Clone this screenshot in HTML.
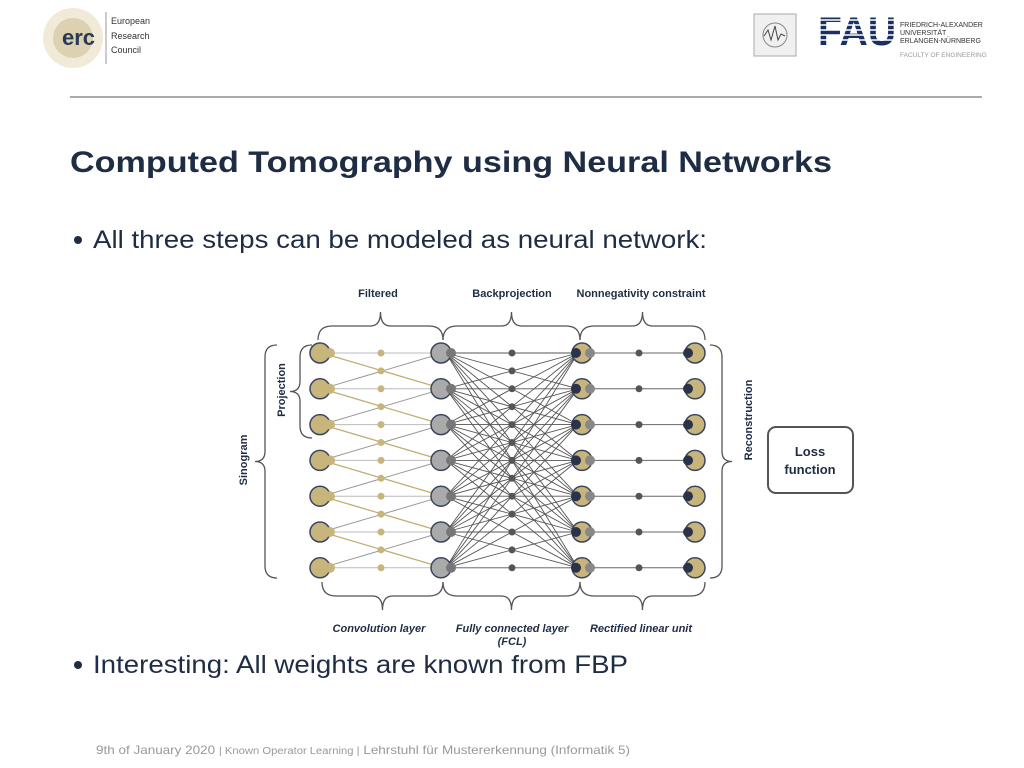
<!DOCTYPE html>
<html><head><meta charset="utf-8"><style>
body{margin:0;width:1024px;height:768px;background:#fff;font-family:"Liberation Sans",sans-serif;position:relative;overflow:hidden}
.a{position:absolute}
</style></head><body>
<svg class="a" style="left:0;top:0" width="1024" height="768" id="s">
<circle cx="73" cy="38" r="30" fill="#e8dcc0" opacity="0.6"/>
<circle cx="73" cy="38" r="20" fill="#c8b888" opacity="0.5"/>
<text x="62" y="45" font-family="Liberation Sans" font-weight="bold" font-size="22" fill="#2a3a55">erc</text>
<line x1="106" y1="12" x2="106" y2="64" stroke="#999" stroke-width="1"/>
<text font-family="Liberation Sans" font-size="9" fill="#333"><tspan x="111" y="24">European</tspan><tspan x="111" y="39">Research</tspan><tspan x="111" y="53">Council</tspan></text>
<rect x="754" y="14" width="42" height="42" fill="#f0f0f0" stroke="#aaa"/>
<circle cx="775" cy="35" r="12" fill="none" stroke="#888"/>
<path d="M764 36 l4 -6 l3 10 l4 -14 l3 14 l3 -6 l4 2" stroke="#444" fill="none"/>
<text x="818" y="45" font-family="Liberation Sans" font-weight="bold" font-size="40" fill="#1a3060" textLength="78" lengthAdjust="spacingAndGlyphs">FAU</text>
<g stroke="#fff" stroke-width="1.5"><line x1="816" y1="20" x2="898" y2="20"/><line x1="816" y1="25" x2="898" y2="25"/><line x1="816" y1="30" x2="898" y2="30"/><line x1="816" y1="35" x2="898" y2="35"/><line x1="816" y1="40" x2="898" y2="40"/></g>
<text font-family="Liberation Sans" font-size="7" fill="#333"><tspan x="900" y="27">FRIEDRICH-ALEXANDER</tspan><tspan x="900" y="35">UNIVERSITÄT</tspan><tspan x="900" y="43">ERLANGEN-NÜRNBERG</tspan></text>
<text x="900" y="57" font-family="Liberation Sans" font-size="6.5" fill="#999">FACULTY OF ENGINEERING</text>
<line x1="70" y1="97" x2="982" y2="97" stroke="#777" stroke-width="1.2"/>
<text x="70" y="172" font-family="Liberation Sans" font-weight="bold" font-size="30" fill="#1f2d44" textLength="762" lengthAdjust="spacingAndGlyphs">Computed Tomography using Neural Networks</text>
<circle cx="78" cy="240" r="4" fill="#1f2d44"/>
<text x="93" y="248" font-family="Liberation Sans" font-size="25" fill="#1f2d44" textLength="614" lengthAdjust="spacingAndGlyphs">All three steps can be modeled as neural network:</text>
<circle cx="78" cy="665" r="4" fill="#1f2d44"/>
<text x="93" y="673" font-family="Liberation Sans" font-size="25" fill="#1f2d44" textLength="535" lengthAdjust="spacingAndGlyphs">Interesting: All weights are known from FBP</text>
<text x="96" y="754" font-family="Liberation Sans" font-size="12" fill="#999" textLength="534" lengthAdjust="spacingAndGlyphs">9th of January 2020  <tspan font-size="10">| Known Operator Learning  |</tspan>   Lehrstuhl für Mustererkennung (Informatik 5)</text>
<g id="d"></g>
<g font-family="Liberation Sans" font-weight="bold" font-size="11" fill="#1f2d44" text-anchor="middle">
<text x="378" y="297">Filtered</text><text x="512" y="297">Backprojection</text><text x="641" y="297">Nonnegativity constraint</text>
<text transform="translate(285,390) rotate(-90)">Projection</text>
<text transform="translate(247,460) rotate(-90)">Sinogram</text>
<text transform="translate(752,420) rotate(-90)">Reconstruction</text>
<g font-style="italic"><text x="379" y="632">Convolution layer</text><text x="512" y="632">Fully connected layer</text><text x="512" y="645">(FCL)</text><text x="641" y="632">Rectified linear unit</text></g>
</g>
<rect x="768" y="427" width="85" height="66" rx="8" fill="#fff" stroke="#555" stroke-width="2"/>
<text x="810" y="456" text-anchor="middle" font-family="Liberation Sans" font-weight="bold" font-size="13" fill="#1f2d44">Loss</text>
<text x="810" y="474" text-anchor="middle" font-family="Liberation Sans" font-weight="bold" font-size="13" fill="#1f2d44">function</text>
</svg>
<script>
var g=document.getElementById('d'),h='';
var Y=[];for(var i=0;i<7;i++)Y.push(353+i*35.8);
function L(x1,y1,x2,y2,c,w){h+='<line x1="'+x1+'" y1="'+y1+'" x2="'+x2+'" y2="'+y2+'" stroke="'+c+'" stroke-width="'+(w||1)+'"/>';}
function C(x,y,r,f,s){h+='<circle cx="'+x+'" cy="'+y+'" r="'+r+'" fill="'+f+'"'+(s?' stroke="'+s+'" stroke-width="1.5"':'')+'/>';}
function brace(x1,x2,y,up){var m=(x1+x2)/2,s=up?-1:1,k=14;
h+='<path d="M'+x1+' '+y+' q0 '+(s*k)+' '+k+' '+(s*k)+' L'+(m-10)+' '+(y+s*k)+' q10 0 10 '+(s*k)+' q0 '+(-s*k)+' 10 '+(-s*k)+' L'+(x2-k)+' '+(y+s*k)+' q'+k+' 0 '+k+' '+(-s*k)+'" fill="none" stroke="#555" stroke-width="1.3"/>';}
function vbrace(x,y1,y2,left){var m=(y1+y2)/2,d=left?-1:1;h+='<path d="M'+(x+d*-12)+' '+y1+' q'+(d*12)+' 0 '+(d*12)+' 12 L'+x+' '+(m-10)+' q0 10 '+(d*10)+' 10 q'+(d*-10)+' 0 '+(d*-10)+' 10 L'+x+' '+(y2-12)+' q0 12 '+(d*-12)+' 12" fill="none" stroke="#555" stroke-width="1.3"/>';}
for(var i=0;i<7;i++){L(322,Y[i],443,Y[i],'#bbb');}
for(var i=0;i<6;i++){L(322,Y[i],443,Y[i+1],'#c2ad72',1.3);L(322,Y[i+1],443,Y[i],'#999');}
for(var i=0;i<7;i++)for(var j=0;j<7;j++)L(446,Y[i],578,Y[j],'#555',0.9);
for(var i=0;i<7;i++)L(580,Y[i],693,Y[i],'#666');
for(var i=0;i<7;i++){C(381,Y[i],3.5,'#c8b57c');if(i<6)C(381,Y[i]+17.9,3.5,'#c8b57c');}
for(var k=0;k<13;k++)C(512,353+k*17.9,3.5,'#555');
for(var i=0;i<7;i++){
C(320,Y[i],10,'#c8b57c','#3a4560');C(330,Y[i],5,'#c8b57c');
C(441,Y[i],10,'#aaa','#3a4560');C(451,Y[i],5,'#777');
C(582,Y[i],10,'#c8b57c','#3a4560');C(576,Y[i],5,'#2a3348');C(590,Y[i],5,'#888');
C(639,Y[i],3.5,'#555');
C(695,Y[i],10,'#c8b57c','#3a4560');C(688,Y[i],5,'#2a3348');}
brace(318,443,340,true);brace(443,580,340,true);brace(580,705,340,true);
brace(322,443,582,false);brace(443,580,582,false);brace(580,705,582,false);
vbrace(300,345,438,true);vbrace(265,345,578,true);vbrace(722,345,578,false);
g.innerHTML=h;
</script>
</body></html>
